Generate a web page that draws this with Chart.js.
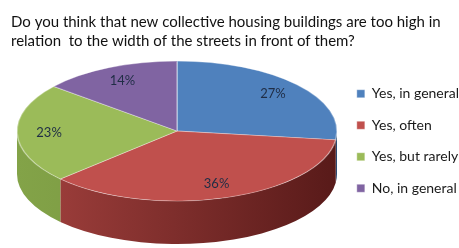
<!DOCTYPE html>
<html>
<head>
<meta charset="utf-8">
<script src="https://cdn.jsdelivr.net/npm/chart.js@4"></script>
<style>
  body { margin: 0; background: #fff; }
  #wrap { width: 459px; height: 248px; }
</style>
</head>
<body>
<div id="wrap"><canvas id="pieChart" width="459" height="248"></canvas></div>
<script>
const titleLines = [
    "Do you think that new collective housing buildings are too high in",
    "relation  to the width of the streets in front of them?"
];
const categories = ["Yes, in general", "Yes, often", "Yes, but rarely", "No, in general"];
const shares = [27, 36, 23, 14];

const topColors = ["#4F81BD", "#C0504D", "#9BBB59", "#8064A2"];
const sideLight = ["#3f6a9e", "#a3413e", "#83a348", "#6a5290"];
const sideDark = ["#2b4a72", "#581a19", "#6c8a38", "#4e3b6d"];

// ellipse used to tilt the flat pie
const EX = 177, EY = 131, RX = 160, RY = 70, DEPTH = 43;

const pie3d = {
    id: "pie3d",
    beforeDatasetsDraw(chart) {
        const ctx = chart.ctx;
        const arcs = chart.getDatasetMeta(0).data;
        const cx = arcs[0].x, cy = arcs[0].y, r = arcs[0].outerRadius;

        // side walls (front half only)
        arcs.forEach((arc, i) => {
            const a1 = Math.max(arc.startAngle, 0);
            const a2 = Math.min(arc.endAngle, Math.PI);
            if (a2 <= a1) return;
            const g = ctx.createLinearGradient(EX - RX, 0, EX + RX, 0);
            g.addColorStop(0, sideLight[i]);
            g.addColorStop(1, sideDark[i]);
            ctx.save();
            ctx.beginPath();
            ctx.ellipse(EX, EY, RX, RY, 0, a1, a2);
            ctx.lineTo(EX + RX * Math.cos(a2), EY + DEPTH + RY * Math.sin(a2));
            ctx.ellipse(EX, EY + DEPTH, RX, RY, 0, a2, a1, true);
            ctx.closePath();
            ctx.fillStyle = g;
            ctx.fill();
            ctx.restore();
        });

        // top face
        ctx.save();
        ctx.translate(EX, EY);
        ctx.scale(RX / r, RY / r);
        ctx.translate(-cx, -cy);
        arcs.forEach((arc) => arc.draw(ctx));
        ctx.restore();

        // percent labels
        ctx.save();
        ctx.font = "13px Lato, sans-serif";
        ctx.fillStyle = "#1f2d45";
        ctx.textAlign = "center";
        ctx.textBaseline = "middle";
        arcs.forEach((arc, i) => {
            const mid = (arc.startAngle + arc.endAngle) / 2;
            const f = 0.8;
            const x = EX + Math.cos(mid) * RX * f;
            const y = EY + Math.sin(mid) * RY * f;
            ctx.fillText(shares[i] + "%", x, y);
        });
        ctx.restore();
        return false;
    }
};

new Chart(document.getElementById("pieChart").getContext("2d"), {
    type: "pie",
    data: {
        labels: categories,
        datasets: [{
            data: shares,
            backgroundColor: topColors,
            borderColor: "rgba(255,255,255,0.35)",
            borderWidth: 1
        }]
    },
    plugins: [pie3d],
    options: {
        responsive: false,
        animation: false,
        events: [],
        layout: { padding: { left: 11, right: -10, top: 0, bottom: 17 } },
        plugins: {
            title: {
                display: true,
                text: titleLines,
                align: "start",
                color: "#111",
                font: { family: "Lato, sans-serif", size: 15, weight: "normal", lineHeight: 1.3 },
                padding: { top: 12, bottom: 0 }
            },
            legend: {
                position: "right",
                fullSize: false,
                labels: {
                    boxWidth: 8,
                    boxHeight: 8,
                    padding: 17.5,
                    color: "#1a1a1a",
                    font: { family: "Lato, sans-serif", size: 14 }
                }
            },
            tooltip: { enabled: false }
        }
    }
});
</script>
</body>
</html>
